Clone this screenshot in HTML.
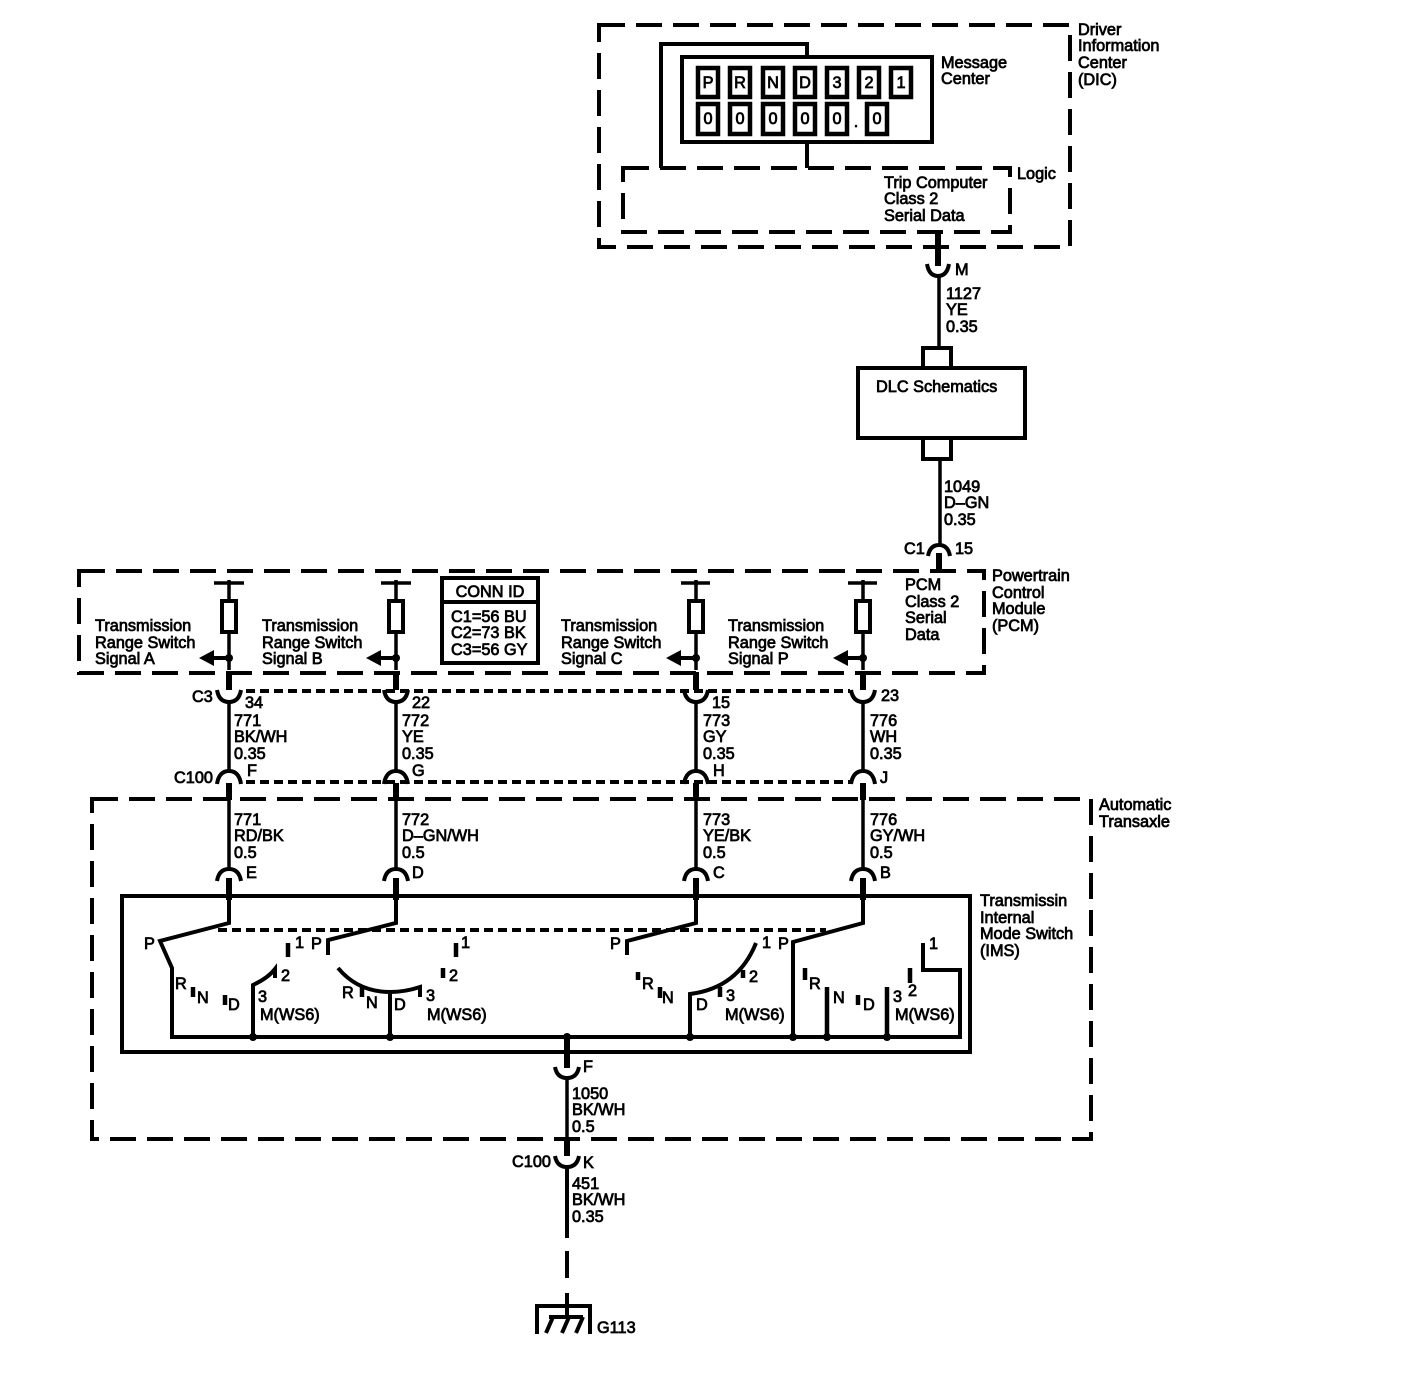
<!DOCTYPE html>
<html><head><meta charset="utf-8"><style>
html,body{margin:0;padding:0;background:#fff}
svg{display:block}
text{font-family:"Liberation Sans",sans-serif;font-size:16.3px;fill:#000;stroke:#000;stroke-width:.75}
.l{fill:none;stroke:#000;stroke-width:3.5}
.t{fill:none;stroke:#000;stroke-width:6}
.m{fill:none;stroke:#000;stroke-width:4}
.d{fill:none;stroke:#000;stroke-width:4;stroke-dasharray:26 11}
.s{fill:none;stroke:#000;stroke-width:4;stroke-dasharray:9 5}
.f{fill:#000;stroke:none}
.bar{fill:none;stroke:#000;stroke-width:4.5}
</style></head><body>
<svg width="1422" height="1392" viewBox="0 0 1422 1392" xmlns="http://www.w3.org/2000/svg">
<rect width="1422" height="1392" fill="#fff"/>
<!-- DIC -->
<rect class="d" x="599" y="25" width="471" height="222"/>
<rect class="d" x="623" y="168" width="387" height="64"/>
<path class="m" d="M661 168V44H807V56M807 143V168"/>
<rect class="m" x="682" y="57" width="250" height="85"/>
<g style="fill:none;stroke:#000;stroke-width:4.5">
<rect x="698" y="68" width="20" height="29"/><rect x="730" y="68" width="20" height="29"/><rect x="763" y="68" width="20" height="29"/><rect x="795" y="68" width="20" height="29"/><rect x="827" y="68" width="20" height="29"/><rect x="859" y="68" width="20" height="29"/><rect x="891" y="68" width="20" height="29"/>
<rect x="698" y="104" width="20" height="30"/><rect x="730" y="104" width="20" height="30"/><rect x="763" y="104" width="20" height="30"/><rect x="795" y="104" width="20" height="30"/><rect x="827" y="104" width="20" height="30"/><rect x="867" y="104" width="20" height="30"/>
</g>
<g text-anchor="middle">
<text x="708" y="88">P</text><text x="740" y="88">R</text><text x="773" y="88">N</text><text x="805" y="88">D</text><text x="837" y="88">3</text><text x="869" y="88">2</text><text x="901" y="88">1</text>
<text x="708" y="124">0</text><text x="740" y="124">0</text><text x="773" y="124">0</text><text x="805" y="124">0</text><text x="837" y="124">0</text><text x="856" y="127">.</text><text x="877" y="124">0</text>
</g>
<text x="941" y="68">Message</text><text x="941" y="84">Center</text>
<text x="1078" y="35">Driver</text><text x="1078" y="51">Information</text><text x="1078" y="68">Center</text><text x="1078" y="85">(DIC)</text>
<text x="1017" y="179">Logic</text>
<text x="884" y="188">Trip Computer</text><text x="884" y="204">Class 2</text><text x="884" y="221">Serial Data</text>
<!-- M to DLC -->
<path class="t" d="M938 232V266"/>
<path class="m" d="M927 264Q929 276 938 276Q947 276 949 264"/>
<path class="l" d="M939 276V347"/>
<text x="955" y="275">M</text>
<text x="946" y="299">1127</text><text x="946" y="315">YE</text><text x="946" y="332">0.35</text>
<path class="m" d="M923 367V348H951V367M923 438V459H951V438"/>
<rect class="m" x="858" y="368" width="167" height="70"/>
<text x="876" y="392">DLC Schematics</text>
<path class="l" d="M940 459V545"/>
<text x="944" y="492">1049</text><text x="944" y="508">D–GN</text><text x="944" y="525">0.35</text>
<path class="m" d="M928 556Q930 545 939 545Q948 545 950 556"/>
<path class="t" d="M939 553V571"/>
<text x="904" y="554">C1</text><text x="955" y="554">15</text>
<!-- PCM -->
<rect class="d" x="79" y="571" width="905" height="102"/>
<text x="992" y="581">Powertrain</text><text x="992" y="598">Control</text><text x="992" y="614">Module</text><text x="992" y="631">(PCM)</text>
<text x="905" y="590">PCM</text><text x="905" y="607">Class 2</text><text x="905" y="623">Serial</text><text x="905" y="640">Data</text>
<rect class="m" x="442" y="578" width="96" height="85"/>
<path class="m" d="M442 602H538"/>
<text x="490" y="597" text-anchor="middle">CONN ID</text>
<text x="451" y="622">C1=56 BU</text><text x="451" y="638">C2=73 BK</text><text x="451" y="655">C3=56 GY</text>
<text x="95" y="631">Transmission</text><text x="95" y="648">Range Switch</text><text x="95" y="664">Signal A</text>
<text x="262" y="631">Transmission</text><text x="262" y="648">Range Switch</text><text x="262" y="664">Signal B</text>
<text x="561" y="631">Transmission</text><text x="561" y="648">Range Switch</text><text x="561" y="664">Signal C</text>
<text x="728" y="631">Transmission</text><text x="728" y="648">Range Switch</text><text x="728" y="664">Signal P</text>
<!-- four branches -->
<g>
<path class="l" d="M214 583H244M229 580V600M229 632V670"/>
<rect class="m" x="222" y="601" width="14" height="31"/>
<path class="m" d="M229 658H212"/><path class="f" d="M199 658L214 650V666Z"/><circle class="f" cx="229" cy="658" r="4"/>
<path class="t" d="M229 672V690"/>
</g>
<g>
<path class="l" d="M381 583H411M396 580V600M396 632V670"/>
<rect class="m" x="389" y="601" width="14" height="31"/>
<path class="m" d="M396 658H379"/><path class="f" d="M366 658L381 650V666Z"/><circle class="f" cx="396" cy="658" r="4"/>
<path class="t" d="M396 672V690"/>
</g>
<g>
<path class="l" d="M681 583H710M696 580V600M696 632V670"/>
<rect class="m" x="689" y="601" width="14" height="31"/>
<path class="m" d="M696 658H679"/><path class="f" d="M666 658L681 650V666Z"/><circle class="f" cx="696" cy="658" r="4"/>
<path class="t" d="M696 672V690"/>
</g>
<g>
<path class="l" d="M848 583H877M863 580V600M863 632V670"/>
<rect class="m" x="856" y="601" width="14" height="31"/>
<path class="m" d="M863 658H846"/><path class="f" d="M833 658L848 650V666Z"/><circle class="f" cx="863" cy="658" r="4"/>
<path class="t" d="M863 672V690"/>
</g>
<!-- Lower connectors -->
<path class="s" d="M246 691H850"/>
<path class="s" d="M246 782H850"/>
<rect class="d" x="92" y="799" width="999" height="340"/>
<text x="1099" y="810">Automatic</text><text x="1099" y="827">Transaxle</text>
<path class="m" d="M217 690Q219 702 229 702Q239 702 241 690M384 690Q386 702 396 702Q406 702 408 690M684 690Q686 702 696 702Q706 702 708 690M851 690Q853 702 863 702Q873 702 875 690"/>
<path class="m" d="M217 784Q219 771 229 771Q239 771 241 784M384 784Q386 771 396 771Q406 771 408 784M684 784Q686 771 696 771Q706 771 708 784M851 784Q853 771 863 771Q873 771 875 784"/>
<path class="m" d="M217 881Q219 869 229 869Q239 869 241 881M384 881Q386 869 396 869Q406 869 408 881M684 881Q686 869 696 869Q706 869 708 881M851 881Q853 869 863 869Q873 869 875 881"/>
<path class="l" d="M229 702V771M229 800V869M396 702V771M396 800V869M696 702V771M696 800V869M863 702V771M863 800V869"/>
<path class="t" d="M229 783V800M396 783V800M696 783V800M863 783V800M229 878V900M396 878V900M696 878V900M863 878V900"/>
<text x="192" y="702">C3</text><text x="174" y="783">C100</text>
<text x="245" y="708">34</text><text x="234" y="726">771</text><text x="234" y="742">BK/WH</text><text x="234" y="759">0.35</text><text x="247" y="776">F</text>
<text x="412" y="708">22</text><text x="402" y="726">772</text><text x="402" y="742">YE</text><text x="402" y="759">0.35</text><text x="412" y="776">G</text>
<text x="712" y="708">15</text><text x="703" y="726">773</text><text x="703" y="742">GY</text><text x="703" y="759">0.35</text><text x="713" y="776">H</text>
<text x="881" y="701">23</text><text x="870" y="726">776</text><text x="870" y="742">WH</text><text x="870" y="759">0.35</text><text x="880" y="783">J</text>
<text x="234" y="825">771</text><text x="234" y="841">RD/BK</text><text x="234" y="858">0.5</text><text x="246" y="878">E</text>
<text x="402" y="825">772</text><text x="402" y="841">D–GN/WH</text><text x="402" y="858">0.5</text><text x="412" y="878">D</text>
<text x="703" y="825">773</text><text x="703" y="841">YE/BK</text><text x="703" y="858">0.5</text><text x="713" y="878">C</text>
<text x="870" y="825">776</text><text x="870" y="841">GY/WH</text><text x="870" y="858">0.5</text><text x="880" y="878">B</text>
<!-- IMS -->
<rect class="m" x="122" y="896" width="848" height="156"/>
<text x="980" y="906">Transmissin</text><text x="980" y="923">Internal</text><text x="980" y="939">Mode Switch</text><text x="980" y="956">(IMS)</text>
<path class="s" d="M218 930H826"/>
<path class="m" d="M229 898V923L160 941L172 968V1037H960V970H923V943"/>
<path class="m" d="M396 898V923L328 940V955M696 898V923L627 941V955M863 898V923L793 942V1037"/>
<path class="m" d="M338 968Q358 992 390 992Q405 992 420 987V997M390 992V1037"/>
<path class="m" d="M253 1037V985Q268 978 275 969V978M690 1037V994Q738 988 756 943"/>
<path class="bar" d="M288 943V957M193 987V997M225 995V1005M456 943V957M443 968V978M362 987V997M638 972V980M660 987V998M720 987V997M743 970V978M805 968V980M827 987V1037M858 995V1005M887 987V1037M910 968V983"/>
<g class="f"><circle cx="253" cy="1037" r="4"/><circle cx="390" cy="1037" r="4"/><circle cx="690" cy="1037" r="4"/><circle cx="793" cy="1037" r="4"/><circle cx="827" cy="1037" r="4"/><circle cx="887" cy="1037" r="4"/><circle cx="567" cy="1037" r="4"/></g>
<g>
<text x="144" y="949">P</text><text x="175" y="989">R</text><text x="197" y="1003">N</text><text x="228" y="1010">D</text><text x="258" y="1002">3</text><text x="281" y="981">2</text><text x="295" y="948">1</text><text x="260" y="1020">M(WS6)</text>
<text x="311" y="949">P</text><text x="342" y="998">R</text><text x="366" y="1008">N</text><text x="394" y="1010">D</text><text x="426" y="1001">3</text><text x="449" y="981">2</text><text x="461" y="948">1</text><text x="427" y="1020">M(WS6)</text>
<text x="610" y="949">P</text><text x="642" y="989">R</text><text x="662" y="1003">N</text><text x="696" y="1010">D</text><text x="726" y="1001">3</text><text x="749" y="982">2</text><text x="762" y="948">1</text><text x="725" y="1020">M(WS6)</text>
<text x="778" y="949">P</text><text x="809" y="989">R</text><text x="833" y="1003">N</text><text x="863" y="1010">D</text><text x="893" y="1002">3</text><text x="908" y="996">2</text><text x="929" y="949">1</text><text x="895" y="1020">M(WS6)</text>
</g>
<!-- ground -->
<path class="t" d="M567 1037V1068M567 1138V1156"/>
<path class="m" d="M555 1067Q557 1078 567 1078Q577 1078 579 1067M555 1156Q557 1167 567 1167Q577 1167 579 1156"/>
<path class="l" d="M567 1078V1138"/>
<path class="m" d="M567 1167V1238M567 1251V1278M567 1293V1317"/>
<path class="m" d="M537 1334V1306H590V1334M549 1317H583"/>
<path class="m" d="M553 1317L546 1333M569 1317L562 1333M583 1317L576 1333"/>
<text x="583" y="1072">F</text><text x="572" y="1099">1050</text><text x="572" y="1115">BK/WH</text><text x="572" y="1132">0.5</text>
<text x="512" y="1167">C100</text><text x="583" y="1168">K</text>
<text x="572" y="1189">451</text><text x="572" y="1205">BK/WH</text><text x="572" y="1222">0.35</text>
<text x="597" y="1333">G113</text>
</svg>
</body></html>
